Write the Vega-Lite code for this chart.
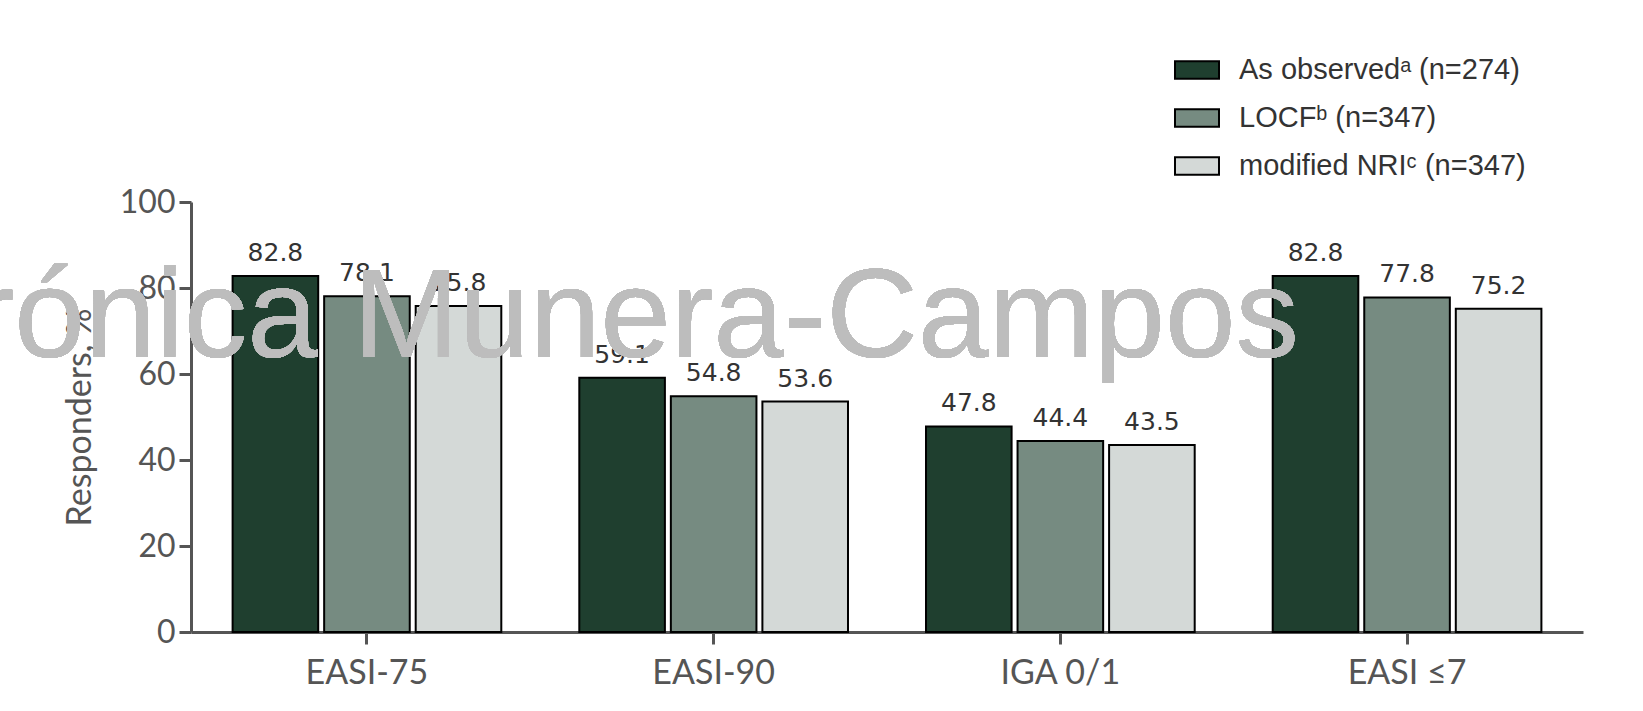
{
  "$schema": "https://vega.github.io/schema/vega-lite/v6.json",
  "width": 1392,
  "height": 430,
  "autosize": {"type": "none"},
  "padding": {"left": 191, "top": 202, "right": 60, "bottom": 79},
  "background": "white",
  "config": {
    "view": {"stroke": null},
    "axis": {
      "domainColor": "#555555",
      "domainWidth": 3,
      "tickColor": "#555555",
      "tickWidth": 3,
      "tickSize": 12,
      "labelFont": "Lato",
      "labelFontSize": 32,
      "labelColor": "#555555",
      "titleFont": "Lato",
      "titleFontSize": 34,
      "titleFontWeight": "normal",
      "titleColor": "#555555",
      "grid": false
    }
  },
  "data": {
    "values": [
      {"measure": "EASI-75", "method": "As observed", "value": 82.8},
      {"measure": "EASI-75", "method": "LOCF", "value": 78.1},
      {"measure": "EASI-75", "method": "modified NRI", "value": 75.8},
      {"measure": "EASI-90", "method": "As observed", "value": 59.1},
      {"measure": "EASI-90", "method": "LOCF", "value": 54.8},
      {"measure": "EASI-90", "method": "modified NRI", "value": 53.6},
      {"measure": "IGA 0/1", "method": "As observed", "value": 47.8},
      {"measure": "IGA 0/1", "method": "LOCF", "value": 44.4},
      {"measure": "IGA 0/1", "method": "modified NRI", "value": 43.5},
      {"measure": "EASI ≤7", "method": "As observed", "value": 82.8},
      {"measure": "EASI ≤7", "method": "LOCF", "value": 77.8},
      {"measure": "EASI ≤7", "method": "modified NRI", "value": 75.2}
    ]
  },
  "encoding": {
    "x": {
      "field": "measure",
      "type": "nominal",
      "sort": ["EASI-75", "EASI-90", "IGA 0/1", "EASI ≤7"],
      "scale": {"paddingInner": 0.225, "paddingOuter": 0.12},
      "axis": {"title": null, "labelAngle": 0, "labelPadding": 12, "labelFontSize": 34}
    },
    "y": {
      "field": "value",
      "type": "quantitative",
      "scale": {"domain": [0, 100]},
      "axis": {"values": [0, 20, 40, 60, 80, 100], "title": "Responders, %", "titlePadding": 22, "labelPadding": 4}
    }
  },
  "layer": [
    {
      "mark": {"type": "bar", "stroke": "black", "strokeWidth": 2},
      "encoding": {
        "xOffset": {
          "field": "method",
          "sort": ["As observed", "LOCF", "modified NRI"],
          "scale": {"paddingInner": 0.065, "paddingOuter": 0}
        },
        "color": {
          "field": "method",
          "type": "nominal",
          "sort": ["As observed", "LOCF", "modified NRI"],
          "scale": {"domain": ["As observed", "LOCF", "modified NRI"], "range": ["#1f3f2f", "#768b81", "#d4d9d7"]},
          "legend": {
            "title": null,
            "orient": "none",
            "legendX": 983,
            "legendY": -155,
            "padding": 0,
            "symbolType": "M-1,-0.4H1V0.4H-1Z",
            "symbolSize": 1936,
            "symbolStrokeColor": "black",
            "symbolStrokeWidth": 2,
            "symbolOpacity": 1,
            "labelFont": "Liberation Sans",
            "labelFontSize": 29,
            "labelColor": "#333333",
            "labelOffset": 19,
            "labelLimit": 600,
            "rowPadding": 10,
            "labelExpr": "datum.label == 'As observed' ? 'As observedᵃ (n=274)' : datum.label == 'LOCF' ? 'LOCFᵇ (n=347)' : 'modified NRIᶜ (n=347)'"
          }
        }
      }
    },
    {
      "mark": {"type": "text", "baseline": "alphabetic", "dy": -15, "font": "DejaVu Sans", "fontSize": 25, "color": "#333333"},
      "encoding": {
        "xOffset": {
          "field": "method",
          "sort": ["As observed", "LOCF", "modified NRI"],
          "scale": {"paddingInner": 0.065, "paddingOuter": 0}
        },
        "text": {"field": "value", "type": "quantitative", "format": ".1f"}
      }
    },
    {
      "mark": {"type": "text", "text": "Verónica Munera-Campos", "font": "Liberation Sans", "fontSize": 127, "color": "#bdbdbd", "align": "right", "baseline": "alphabetic", "dx": -108},
      "encoding": {
        "x": {"datum": "EASI ≤7"},
        "y": {"datum": 64}
      }
    }
  ]
}
